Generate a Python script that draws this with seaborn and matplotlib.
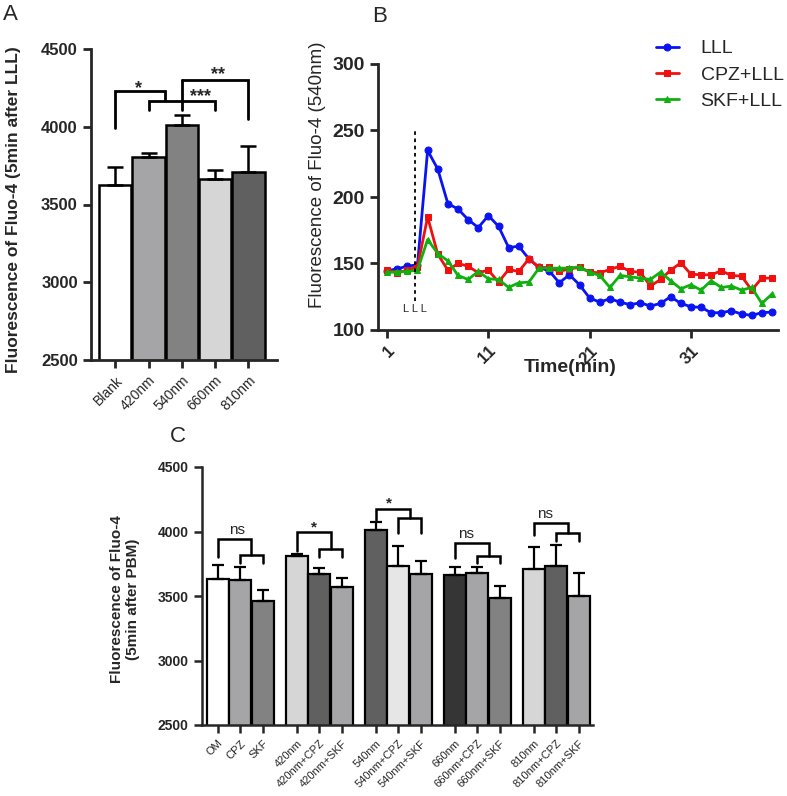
import numpy as np
import pandas as pd
import seaborn as sns
import matplotlib.pyplot as plt

# ---- data ----
# Panel A
a_labels = ["Blank", "420nm", "540nm", "660nm", "810nm"]
a_mean = [3628, 3807, 4011, 3665, 3708]
a_sem = [114, 21, 62, 60, 168]
a_colors = ["#ffffff", "#a4a4a8", "#828282", "#d6d6d6", "#606060"]

# Panel B
time_min = list(range(1, 40))
lll = [144.5, 146, 148, 149, 235, 221, 195, 191, 183, 177, 186, 178, 162, 163,
       153.5, 147, 144.5, 135.5, 141.5, 134, 124, 121, 123.5, 121, 119, 120.5,
       118, 120, 125, 120, 117.5, 117, 113, 113, 114.5, 112, 111, 113, 113.5]
cpz_lll = [145, 143, 145, 147.5, 185, 157, 145, 150, 148, 143, 145, 136, 145.5,
           144, 153.5, 147, 147, 144, 146, 147, 143.5, 143, 145.5, 148, 144,
           143.5, 133, 138, 145, 150.5, 142, 141.5, 141.5, 144.5, 141, 140.5,
           130, 139, 139]
skf_lll = [143.5, 143.5, 144, 145, 168, 157.5, 152, 141, 138, 144, 138.5, 138,
           132, 135.5, 136, 146.5, 146.5, 146.5, 146.5, 147.5, 143.5, 141, 132,
           141, 140, 139, 138, 143.5, 137, 131, 134, 130, 137, 132, 133, 130,
           132, 120, 127]
series_names = ["LLL", "CPZ+LLL", "SKF+LLL"]
series_colors = ["#0a14f0", "#f01010", "#10b010"]
series_markers = ["o", "s", "^"]

# Panel C
c_labels = ["OM", "CPZ", "SKF", "420nm", "420nm+CPZ", "420nm+SKF",
            "540nm", "540nm+CPZ", "540nm+SKF", "660nm", "660nm+CPZ", "660nm+SKF",
            "810nm", "810nm+CPZ", "810nm+SKF"]
c_pos = [0, 1, 2, 3.5, 4.5, 5.5, 7, 8, 9, 10.5, 11.5, 12.5, 14, 15, 16]
c_mean = [3628, 3626, 3465, 3807, 3672, 3569, 4011, 3734, 3672,
          3665, 3678, 3483, 3708, 3729, 3502]
c_sem = [114, 98, 78, 21, 44, 70, 62, 151, 96, 60, 43, 96, 168, 163, 176]
c_colors = ["#ffffff", "#a4a4a8", "#828282", "#d6d6d6", "#606060", "#a4a4a8",
            "#606060", "#e6e6e6", "#a4a4a8", "#353535", "#a4a4a8", "#828282",
            "#d6d6d6", "#606060", "#a4a4a8"]

sns.set_style("ticks")
plt.rcParams['font.family'] = ['Liberation Sans', 'DejaVu Sans']

W, H = 787, 796
fig = plt.figure(figsize=(W / 100, H / 100), dpi=100)


def px_axes(left, top, right, bottom):
    return fig.add_axes([left / W, 1 - bottom / H, (right - left) / W, (bottom - top) / H])


def style_axes(ax, lw=1.8):
    sns.despine(ax=ax)
    for s in ["left", "bottom"]:
        ax.spines[s].set_linewidth(lw)
    ax.tick_params(width=lw, length=6, direction="out")


def bracket(ax, x1, x2, y, h1, h2, lw=2):
    ax.plot([x1, x1, x2, x2], [y - h1, y, y, y - h2], color="black", lw=lw,
            solid_joinstyle="miter", clip_on=False)


# ----------------------------
# Panel A
axA = px_axes(91, 49, 277, 360)
dfA = pd.DataFrame({"grp": a_labels, "val": a_mean})
sns.barplot(data=dfA, x="grp", y="val", hue="grp", palette=a_colors, legend=False,
            edgecolor="black", linewidth=1.8, width=0.97, ax=axA)
axA.errorbar(range(len(a_labels)), a_mean, yerr=[np.zeros(len(a_sem)), a_sem],
             fmt="none", ecolor="black", elinewidth=1.8, capsize=6, capthick=1.8)
axA.set_ylim(2500, 4500)
axA.set_xlim(-0.73, 4.86)
axA.set_yticks([2500, 3000, 3500, 4000, 4500])
style_axes(axA, 2)
axA.set_xlabel("")
axA.set_ylabel("")
for t in axA.get_yticklabels():
    t.set_fontweight("bold")
    t.set_fontsize(12)
axA.set_xticks(range(len(a_labels)))
axA.set_xticklabels(a_labels, rotation=45, ha="right", rotation_mode="anchor", fontsize=10)
# significance brackets
bracket(axA, 1, 3, 4163, 55, 55)
bracket(axA, 0, 1.5, 4231, 240, 60)
axA.plot([2, 2], [4302, 4109], color="black", lw=2)
bracket(axA, 2, 4, 4302, 0, 250)
axA.text(0.7, 4245, "*", ha="center", va="center", fontsize=13, fontweight="bold")
axA.text(2.55, 4195, "***", ha="center", va="center", fontsize=13, fontweight="bold")
axA.text(3.1, 4335, "**", ha="center", va="center", fontsize=13, fontweight="bold")
fig.text(14 / W, 1 - 210 / H, "Fluorescence of Fluo-4 (5min after LLL)", rotation=90,
         ha="center", va="center", fontsize=12.5, fontweight="bold")
fig.text(3 / W, 1 - 4 / H, "A", ha="left", va="top", fontsize=16)

# ----------------------------
# Panel B
axB = px_axes(378, 64, 778, 330)
for name, vals, col, mk in zip(series_names, [lll, cpz_lll, skf_lll], series_colors, series_markers):
    sns.lineplot(x=time_min, y=vals, color=col, marker=mk, markersize=5,
                 markeredgecolor=col, linewidth=2, label=name, ax=axB)
axB.axvline(3.8, ymin=(122 - 100) / 200, ymax=(250 - 100) / 200, color="black",
            ls=(0, (2, 2)), lw=1.3)
axB.text(3.75, 116, "L L L", ha="center", va="center", fontsize=8)
axB.set_ylim(100, 300)
axB.set_xlim(0.1, 39.6)
axB.set_xticks([1, 11, 21, 31])
axB.set_yticks([100, 150, 200, 250, 300])
style_axes(axB, 2)
for t in axB.get_yticklabels():
    t.set_fontweight("bold")
    t.set_fontsize(14)
for t in axB.get_xticklabels():
    t.set_fontweight("bold")
    t.set_fontsize(12)
    t.set_rotation(45)
    t.set_ha("right")
    t.set_rotation_mode("anchor")
axB.set_xlabel("")
axB.set_ylabel("")
fig.text(570 / W, 1 - 368 / H, "Time(min)", ha="center", va="center",
         fontsize=14, fontweight="bold")
fig.text(318 / W, 1 - 175 / H, "Fluorescence of Fluo-4 (540nm)", rotation=90,
         ha="center", va="center", fontsize=13.5)
leg = axB.legend(loc="upper left", bbox_to_anchor=((648 - 378) / 400, 1.12),
                 frameon=False, fontsize=14, handlelength=1.2, handletextpad=1.1,
                 labelspacing=0.45, borderaxespad=0)
fig.text(372 / W, 1 - 6 / H, "B", ha="left", va="top", fontsize=16)

# ----------------------------
# Panel C
axC = px_axes(202, 467, 593, 725)
dfC = pd.DataFrame({"pos": c_pos, "val": c_mean, "grp": c_labels})
sns.barplot(data=dfC, x="pos", y="val", hue="grp", palette=c_colors, legend=False,
            native_scale=True, edgecolor="black", linewidth=1.6, width=0.97, ax=axC)
axC.errorbar(c_pos, c_mean, yerr=[np.zeros(len(c_sem)), c_sem], fmt="none",
             ecolor="black", elinewidth=1.6, capsize=4, capthick=1.6)
axC.set_ylim(2500, 4500)
axC.set_xlim(-0.69, 16.62)
axC.set_yticks([2500, 3000, 3500, 4000, 4500])
style_axes(axC, 1.8)
axC.set_xlabel("")
axC.set_ylabel("")
for t in axC.get_yticklabels():
    t.set_fontweight("bold")
    t.set_fontsize(10)
axC.set_xticks(c_pos)
axC.set_xticklabels(c_labels, rotation=45, ha="right", rotation_mode="anchor", fontsize=8)
# brackets per group: (x1, x2 upper, y upper, sub x1, sub x2, y sub, sub bottom, label, label x, label y)
brk = [
    (0, 1.5, 3944, 1, 2, 3816, 3755, "ns", 0.87, 4010),
    (3.5, 5.0, 3996, 4.5, 5.5, 3866, 3802, "*", 4.25, 4030),
    (7, 8.5, 4175, 8, 9, 4105, 3988, "*", 7.6, 4215),
    (10.5, 12.0, 3911, 11.5, 12.5, 3812, 3755, "ns", 11.0, 3980),
    (14, 15.5, 4066, 15, 16, 3988, 3923, "ns", 14.5, 4135),
]
for x1, x2, yu, s1, s2, ys, yb, lab, lx, ly in brk:
    bracket(axC, x1, x2, yu, yu - (ys - 15), yu - ys, lw=1.8)
    bracket(axC, s1, s2, ys, ys - yb, ys - yb, lw=1.8)
    axC.text(lx, ly, lab, ha="center", va="center", fontsize=11,
             fontweight="bold" if lab == "*" else "normal")
fig.text(125 / W, 1 - 599 / H, "Fluorescence of Fluo-4\n(5min after PBM)", rotation=90,
         ha="center", va="center", fontsize=11, fontweight="bold", linespacing=1.2)
fig.text(170 / W, 1 - 426 / H, "C", ha="left", va="top", fontsize=16)

fig.savefig("out.png", dpi=100)
